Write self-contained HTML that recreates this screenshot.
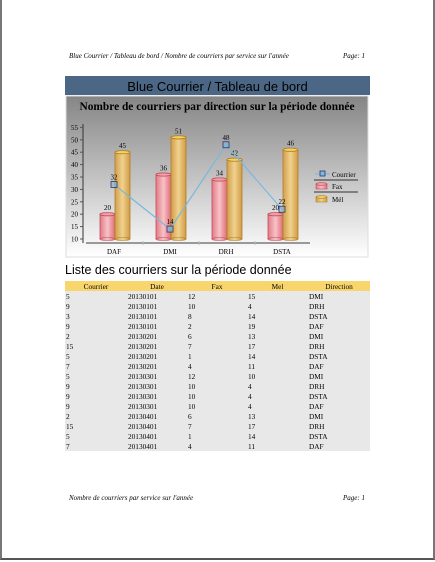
<!DOCTYPE html>
<html><head><meta charset="utf-8">
<style>
body{margin:0;width:435px;height:562px;background:#fff;position:relative;overflow:hidden;font-family:"Liberation Serif",serif;}
.frame{position:absolute;left:0;top:0;width:431px;height:558px;border-left:2px solid #777;border-right:2px solid #777;border-bottom:2px solid #555;}
.hdr{position:absolute;font-style:italic;font-size:7px;color:#000;}
.bar{position:absolute;left:65px;top:76px;width:305px;height:19px;background:#4b6785;color:#000;font-family:"Liberation Sans",sans-serif;font-size:13px;text-align:center;line-height:22px;}
table{position:absolute;left:65px;top:281px;width:305px;border-collapse:collapse;font-size:7.3px;}
th{background:#f9d56e;font-weight:normal;height:10px;padding:0;}
td{background:#e8e8e8;height:10px;padding:0 0 0 1px;}
</style></head><body>
<div class="frame"></div>
<div class="hdr" style="left:69px;top:52px">Blue Courrier / Tableau de bord / Nombre de courriers par service sur l'année</div>
<div class="hdr" style="left:343px;top:52px">Page: 1</div>
<div class="bar">Blue Courrier / Tableau de bord</div>
<svg id="chart" style="position:absolute;left:0;top:0" width="435" height="562">
<defs>
<linearGradient id="bg" x1="0" y1="0" x2="0" y2="1"><stop offset="0" stop-color="#858585"/><stop offset="1" stop-color="#ffffff"/></linearGradient>
<linearGradient id="fax" x1="0" y1="0" x2="1" y2="0"><stop offset="0" stop-color="#e47a86"/><stop offset="0.5" stop-color="#f6c2c6"/><stop offset="1" stop-color="#e06e7b"/></linearGradient>
<linearGradient id="mel" x1="0" y1="0" x2="1" y2="0"><stop offset="0" stop-color="#d2a04a"/><stop offset="0.5" stop-color="#f0d18e"/><stop offset="1" stop-color="#cf9c45"/></linearGradient>
</defs>
<rect x="66" y="96" width="302" height="161" fill="url(#bg)" stroke="#ddd"/>
<text x="217" y="110" text-anchor="middle" font-weight="bold" font-size="11.4" font-family="Liberation Serif">Nombre de courriers par direction sur la période donnée</text>
<g id="marks"></g>
</svg>
<div style="position:absolute;left:65px;top:263px;font-family:'Liberation Sans',sans-serif;font-size:12.5px">Liste des courriers sur la période donnée</div>
<table>
<thead><tr><th style="width:62px">Courrier</th><th style="width:60px">Date</th><th style="width:60px">Fax</th><th style="width:61px">Mel</th><th>Direction</th></tr></thead>
<tbody id="tb"></tbody>
</table>
<div class="hdr" style="left:69px;top:494px">Nombre de courriers par service sur l'année</div>
<div class="hdr" style="left:343px;top:494px">Page: 1</div>
<script>
const categories=["DAF","DMI","DRH","DSTA"];
const faxValues=[20,36,34,20];
const melValues=[45,51,42,46];
const courrierValues=[32,14,48,22];
const yTicks=[10,15,20,25,30,35,40,45,50,55];
const rowsCourrier=[5,9,3,9,2,15,5,7,5,9,9,9,2,15,5,7];
const rowsDate=["20130101","20130101","20130101","20130101","20130201","20130201","20130201","20130201","20130301","20130301","20130301","20130301","20130401","20130401","20130401","20130401"];
const rowsFax=[12,10,8,2,6,7,1,4,12,10,10,10,6,7,1,4];
const rowsMel=[15,4,14,19,13,17,14,11,10,4,4,4,13,17,14,11];
const rowsDir=["DMI","DRH","DSTA","DAF","DMI","DRH","DSTA","DAF","DMI","DRH","DSTA","DAF","DMI","DRH","DSTA","DAF"];

const NS="http://www.w3.org/2000/svg";
const g=document.getElementById('marks');
const y=v=>239-(v-10)*2.48;
const xc=i=>115+i*56;
function mk(t,a,txt){const e=document.createElementNS(NS,t);for(const k in a)e.setAttribute(k,a[k]);if(txt!==undefined)e.textContent=txt;g.appendChild(e);return e;}
let e=mk('line',{x1:83,y1:124,x2:83,y2:243,stroke:'#333','stroke-width':1});


yTicks.forEach(v=>{
 let t=mk('text',{x:78,y:y(v)+2.5,'text-anchor':'end','font-size':7},v);
 
 
 mk('line',{x1:80,y1:y(v),x2:83,y2:y(v),stroke:'#555'});
});
e=mk('line',{x1:86,y1:243,x2:310,y2:243,stroke:'#999','stroke-width':2});


categories.forEach((c,i)=>{
 let t=mk('text',{x:xc(i)-1,y:254,'text-anchor':'middle','font-size':7},c);
 
 
 if(i>0)mk('line',{x1:xc(i)-28,y1:241,x2:xc(i)-28,y2:245,stroke:'#bbb'});
});
function cyl(x,v,fill,stroke,topc,name){
 const top=y(v),bot=239;
 let r=mk('rect',{x:x,y:top,width:15,height:bot-top,fill:fill,stroke:stroke,'stroke-width':0.8});
 
 
 mk('ellipse',{cx:x+7.5,cy:bot,rx:7.5,ry:1.5,fill:fill,stroke:stroke,'stroke-width':0.6});
 mk('ellipse',{cx:x+7.5,cy:top,rx:7.5,ry:1.6,fill:topc,stroke:stroke,'stroke-width':0.8});
 let t=mk('text',{x:x+7.5,y:top-4,'text-anchor':'middle','font-size':7},v);
 
 
}
categories.forEach((c,i)=>{
 cyl(xc(i)-15,faxValues[i],'url(#fax)','#c44a5a','#f2a0a8','bar-fax-'+c.toLowerCase());
 cyl(xc(i),melValues[i],'url(#mel)','#b07c2a','#f3d35a','bar-mel-'+c.toLowerCase());
});
let pts=courrierValues.map((v,i)=>(xc(i)-1)+','+y(v)).join(' ');
e=mk('polyline',{points:pts,fill:'none',stroke:'#7ab8dc','stroke-width':1.2});


courrierValues.forEach((v,i)=>{
 let m=mk('rect',{x:xc(i)-4,y:y(v)-3,width:6,height:6,fill:'#7ab8dc','fill-opacity':0.6,stroke:'#336',"stroke-width":0.8});
 
 
 let t=mk('text',{x:xc(i)-1,y:y(v)-5,'text-anchor':'middle','font-size':7},v);
 
 
});
mk('line',{x1:315,y1:174,x2:330,y2:174,stroke:'#7ab8dc'});
mk('rect',{x:320,y:171,width:5,height:5,fill:'#7ab8dc',stroke:'#336','stroke-width':0.8});
e=mk('text',{x:332,y:177,'font-size':7},'Courrier');


mk('line',{x1:314,y1:180,x2:358,y2:180,stroke:'#333'});
mk('rect',{x:316,y:184,width:11,height:5,fill:'url(#fax)',stroke:'#c44a5a','stroke-width':0.6});
mk('ellipse',{cx:321.5,cy:184,rx:5.5,ry:1.3,fill:'#f2a0a8',stroke:'#c44a5a','stroke-width':0.6});
e=mk('text',{x:332,y:189,'font-size':7},'Fax');


mk('line',{x1:314,y1:192,x2:358,y2:192,stroke:'#333'});
mk('rect',{x:316,y:197,width:11,height:5,fill:'url(#mel)',stroke:'#b07c2a','stroke-width':0.6});
mk('ellipse',{cx:321.5,cy:197,rx:5.5,ry:1.3,fill:'#f3d35a',stroke:'#b07c2a','stroke-width':0.6});
e=mk('text',{x:332,y:202,'font-size':7},'Mél');


const tb=document.getElementById('tb');
rowsCourrier.forEach((c,i)=>{
 const tr=document.createElement('tr');
 
 
 [c,rowsDate[i],rowsFax[i],rowsMel[i],rowsDir[i]].forEach(v=>{const td=document.createElement('td');td.textContent=v;tr.appendChild(td);});
 tb.appendChild(tr);
});
</script>
</body></html>
